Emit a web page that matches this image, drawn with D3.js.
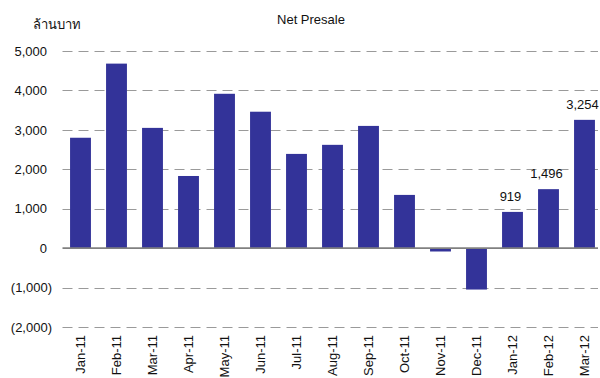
<!DOCTYPE html>
<html>
<head>
<meta charset="utf-8">
<script src="https://cdn.jsdelivr.net/npm/d3@7"></script>
<style>
  body { margin: 0; background: #fff; }
  svg { display: block; font-family: "Liberation Sans", Arial, "Noto Sans", sans-serif; }
</style>
</head>
<body>
<div id="chart"></div>
<script>
// Net presale per month (million baht)
const months = ["Jan-11", "Feb-11", "Mar-11", "Apr-11", "May-11", "Jun-11", "Jul-11", "Aug-11",
  "Sep-11", "Oct-11", "Nov-11", "Dec-11", "Jan-12", "Feb-12", "Mar-12"];
const presale = [2800, 4680, 3050, 1830, 3915, 3460, 2390, 2620, 3100, 1350, -85, -1050, 919, 1496, 3254];
const labelled = ["Jan-12", "Feb-12", "Mar-12"];
const yTicks = [-2000, -1000, 0, 1000, 2000, 3000, 4000, 5000];

const width = 600, height = 378;
const left = 62.5, right = 602.5;

const svg = d3.select("#chart").append("svg")
  .attr("width", width)
  .attr("height", height);

const x = d3.scaleBand().domain(months).range([left, right]).paddingInner(0.42).paddingOuter(0.21);
const y = d3.scaleLinear().domain([-2000, 5000]).range([327, 51]);

const fmt = d3.format(",");
const tickText = d => d < 0 ? `(${fmt(-d)})` : fmt(d);

// gridlines
svg.append("g")
  .selectAll("line")
  .data(yTicks.filter(d => d !== 0))
  .join("line")
  .attr("x1", left)
  .attr("x2", 598)
  .attr("y1", d => Math.round(y(d)) + 0.5)
  .attr("y2", d => Math.round(y(d)) + 0.5)
  .attr("stroke", "#9a9a9a")
  .attr("stroke-dasharray", "10,6");

// y tick labels
svg.append("g")
  .selectAll("text")
  .data(yTicks)
  .join("text")
  .attr("x", d => d < 0 ? 52 : 47)
  .attr("y", d => y(d))
  .attr("dy", "0.36em")
  .attr("text-anchor", "end")
  .attr("font-size", 13)
  .attr("fill", "#111")
  .text(tickText);

// bars
svg.append("g")
  .selectAll("rect")
  .data(presale)
  .join("rect")
  .attr("x", (d, i) => x(months[i]))
  .attr("width", x.bandwidth())
  .attr("y", d => y(Math.max(0, d)))
  .attr("height", d => Math.abs(y(d) - y(0)))
  .attr("fill", "#333399");

// zero line
svg.append("line")
  .attr("x1", left)
  .attr("x2", 598)
  .attr("y1", y(0))
  .attr("y2", y(0))
  .attr("stroke", "#808080")
  .attr("stroke-width", 1.6);

// value labels on last three bars
svg.append("g")
  .selectAll("text")
  .data(months.filter(m => labelled.includes(m)))
  .join("text")
  .attr("x", m => x(m) + x.bandwidth() / 2 - 2)
  .attr("y", m => y(presale[months.indexOf(m)]) - 11)
  .attr("text-anchor", "middle")
  .attr("font-size", 13)
  .attr("fill", "#111")
  .text(m => fmt(presale[months.indexOf(m)]));

// x labels, rotated
svg.append("g")
  .selectAll("text")
  .data(months)
  .join("text")
  .attr("transform", m => `translate(${x(m) + x.bandwidth() / 2},335) rotate(-90)`)
  .attr("dy", "0.36em")
  .attr("text-anchor", "end")
  .attr("font-size", 13)
  .attr("fill", "#111")
  .text(m => m);

// title and unit
svg.append("text")
  .attr("x", 311)
  .attr("y", 24)
  .attr("text-anchor", "middle")
  .attr("font-size", 13)
  .attr("fill", "#111")
  .text("Net Presale");

svg.append("text")
  .attr("x", 33)
  .attr("y", 29)
  .attr("font-size", 13)
  .attr("fill", "#111")
  .text("ล้านบาท");
</script>
</body>
</html>
